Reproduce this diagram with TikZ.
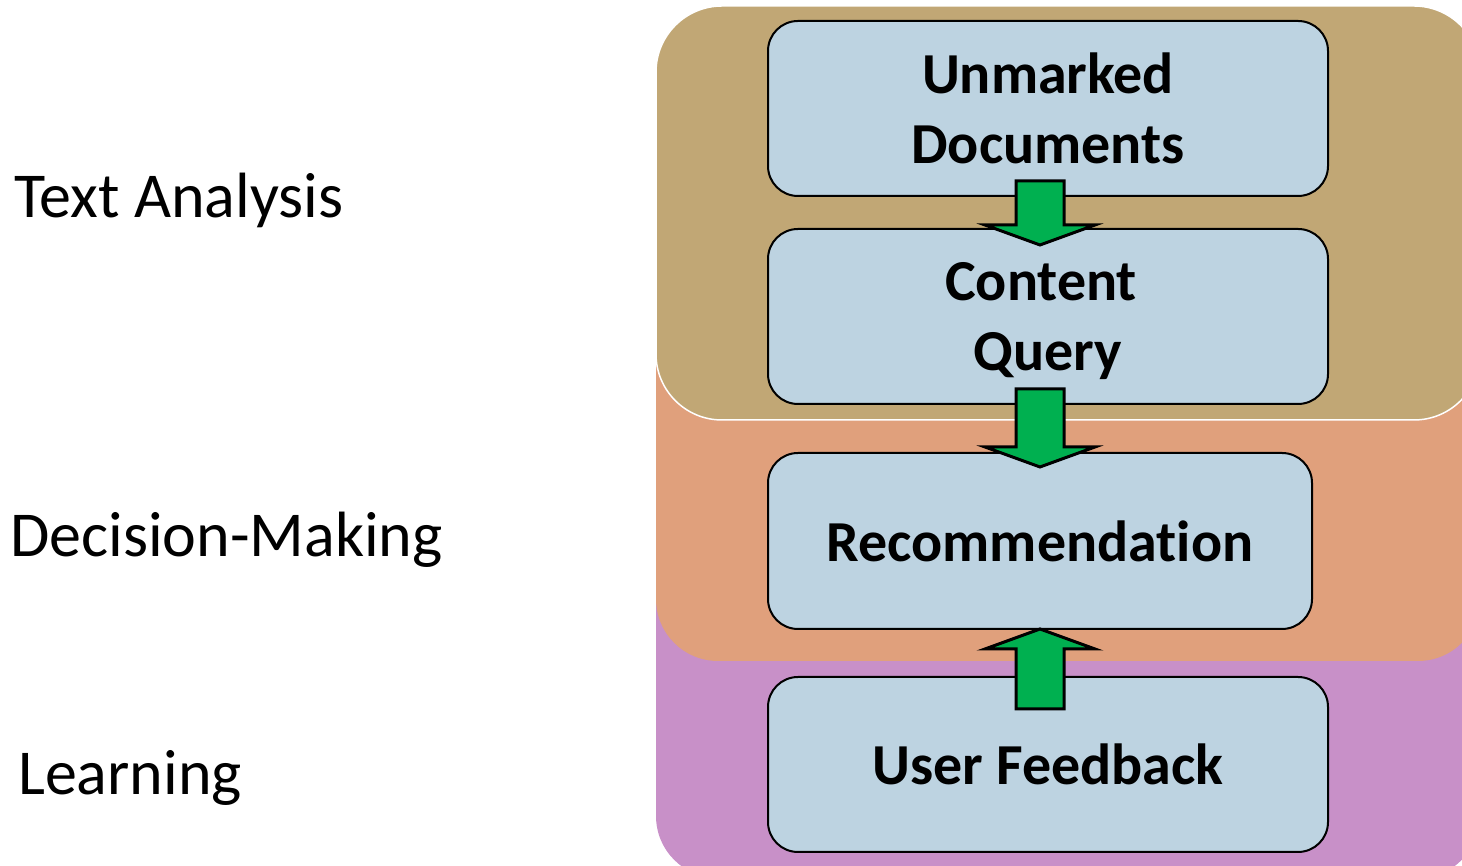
\documentclass[tikz,border=0pt]{standalone}
\usepackage{fontspec}
\setmainfont[Ligatures={NoCommon,NoContextual,NoRare}]{Carlito}
\usetikzlibrary{calc}

\definecolor{layerTan}{RGB}{193,167,117}
\definecolor{layerOrange}{RGB}{224,160,124}
\definecolor{layerPurple}{RGB}{200,144,200}
\definecolor{boxBlue}{RGB}{189,211,225}
\definecolor{arrowGreen}{RGB}{0,176,80}

\tikzset{
  stagebox/.style={draw=black, line width=2pt, fill=boxBlue, rounded corners=30pt,
    minimum width=560pt, minimum height=175pt, inner sep=0pt, align=center,
    font=\fontsize{58}{70}\selectfont\bfseries},
  sidelabel/.style={anchor=base west, inner sep=0pt, font=\fontsize{64}{76}\selectfont},
  fatarrow/.style={draw=black, line width=3pt, fill=arrowGreen, line join=miter},
}

% block arrow from shaft end #1 to tip #2 (vertical)
\newcommand\blockarrow[2]{%
  \path[fatarrow] let \p1=(#1), \p2=(#2), \n1={sign(\y1-\y2)} in
    (\x1-24pt,\y1) -- (\x1-24pt,\y2+\n1*20pt) -- (\x1-55pt,\y2+\n1*20pt)
    -- (\x2,\y2) -- (\x1+55pt,\y2+\n1*20pt) -- (\x1+24pt,\y2+\n1*20pt)
    -- (\x1+24pt,\y1) -- cycle;}

\begin{document}
\begin{tikzpicture}[x=1pt,y=1pt]
  \useasboundingbox (0,0) rectangle (1462,866);
  \clip (0,0) rectangle (1462,866);

  % stacked layers
  \fill[layerPurple, rounded corners=62pt] (656,-12) rectangle (1480,500);
  \fill[layerOrange, rounded corners=62pt] (656,205) rectangle (1480,600);
  \draw[white, line width=1.5pt, fill=layerTan, rounded corners=66pt] (656,446) rectangle (1480,860);

  % processing stages
  \node[stagebox] (ud) at (1048,757.5) {Unmarked\\Documents};
  \node[stagebox, text depth=0pt] (cq) at (1048,549.5) {Content\hspace*{14pt}\\Query};
  \node[stagebox, minimum width=544pt, minimum height=176pt] (rec) at (1040,325) {Recommendation};
  \node[stagebox] (uf) at (1048,101.5) {User Feedback};

  % flow between stages
  \blockarrow{$(ud.south)+(-8pt,16pt)$}{$(cq.north)+(-8pt,-17pt)$}
  \blockarrow{$(cq.south)+(-8pt,16pt)$}{$(rec.north)+(0,-15pt)$}
  \blockarrow{$(uf.north)+(-8pt,-33pt)$}{$(rec.south)+(0,1pt)$}

  % layer names
  \node[sidelabel] (ta) at (14,648) {Text Analysis};
  \node[sidelabel] (dm) at (10,309) {Decision-Making};
  \node[sidelabel] (lr) at (18,71) {Learning};
\end{tikzpicture}
\end{document}
